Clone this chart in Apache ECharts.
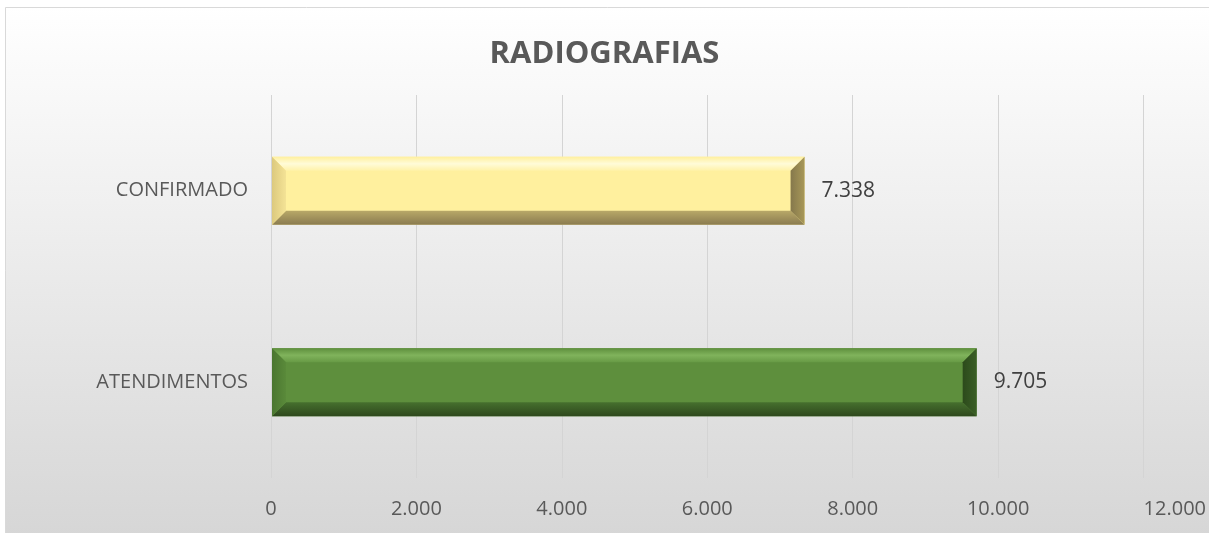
<!DOCTYPE html>
<html>
<head>
<meta charset="utf-8">
<script src="https://cdn.jsdelivr.net/npm/echarts@6/dist/echarts.min.js"></script>
<style>
  html, body { margin: 0; padding: 0; background: #fff; }
  #chart { width: 1209px; height: 533px; }
</style>
</head>
<body>
<div id="chart"></div>
<script>
var categories = ['ATENDIMENTOS', 'CONFIRMADO'];
var values = [9705, 7338];
var tickLabels = ['0', '2.000', '4.000', '6.000', '8.000', '10.000', '12.000'];

// cores do bisel por categoria: face, topo, base, esquerda, direita
var bevelColors = [
  { face: '#5e8f3d', top: ['#5e8f3d', '#80b35c', '#679a45'], bottom: ['#46702e', '#2e481d'], left: ['#4a7630', '#5a8a3a'], right: ['#2c4a1b', '#3a5e26'] },
  { face: '#fff09e', top: ['#fff09e', '#fffbd8', '#fff2a8'], bottom: ['#b8a868', '#8a7b50'], left: ['#dcc97e', '#f4e396'], right: ['#85784c', '#a89858'] }
];

function fmt(v) {
  return String(v).replace(/\B(?=(\d{3})+(?!\d))/g, '.');
}

function renderBar(params, api) {
  var cat = api.value(0);
  var val = api.value(1);
  var p0 = api.coord([0, cat]);
  var p1 = api.coord([val, cat]);
  var h = api.size([0, 1])[1] * 0.355;
  var x0 = p0[0] + 1, x1 = p1[0];
  var y0 = p0[1] - h / 2, y1 = p0[1] + h / 2;
  var b = 14;
  var c = bevelColors[params.dataIndex];
  function lg(x, y, x2, y2, cols) {
    var stops = cols.map(function (col, i) { return { offset: i / (cols.length - 1), color: col }; });
    return new echarts.graphic.LinearGradient(x, y, x2, y2, stops);
  }
  return {
    type: 'group',
    children: [
      { type: 'rect', shape: { x: x0, y: y0, width: x1 - x0, height: y1 - y0 }, style: { fill: c.face } },
      { type: 'polygon', shape: { points: [[x0, y0], [x1, y0], [x1 - b, y0 + b], [x0 + b, y0 + b]] }, style: { fill: lg(0, 0, 0, 1, c.top) } },
      { type: 'polygon', shape: { points: [[x0, y1], [x1, y1], [x1 - b, y1 - b], [x0 + b, y1 - b]] }, style: { fill: lg(0, 0, 0, 1, c.bottom) } },
      { type: 'polygon', shape: { points: [[x0, y0], [x0 + b, y0 + b], [x0 + b, y1 - b], [x0, y1]] }, style: { fill: lg(0, 0, 1, 0, c.left) } },
      { type: 'polygon', shape: { points: [[x1, y0], [x1 - b, y0 + b], [x1 - b, y1 - b], [x1, y1]] }, style: { fill: lg(0, 0, 1, 0, c.right) } },
      { type: 'text', x: x1 + 17, y: p0[1], style: { text: fmt(val), fill: '#404040', font: '21px "Open Sans", sans-serif', verticalAlign: 'middle', align: 'left' } }
    ]
  };
}

var chart = echarts.init(document.getElementById('chart'));
var option = {
  backgroundColor: '#ffffff',
  graphic: [{
    type: 'rect', z: -10, silent: true,
    shape: { x: 5.5, y: 7.5, width: 1210, height: 530 },
    style: {
      fill: new echarts.graphic.LinearGradient(0, 0, 0, 1, [
        { offset: 0, color: '#ffffff' }, { offset: 1, color: '#d6d6d6' }
      ]),
      stroke: '#d9d9d9', lineWidth: 1
    }
  }],
  title: {
    text: 'RADIOGRAFIAS',
    left: 'center',
    top: 34,
    textStyle: { fontFamily: 'Open Sans', fontWeight: 'bold', fontSize: 31, color: '#595959' }
  },
  grid: { left: 271, right: 61, top: 95, bottom: 55 },
  xAxis: {
    type: 'value', min: 0, max: 12000, interval: 2000,
    axisLine: { show: false }, axisTick: { show: false },
    splitLine: { lineStyle: { color: '#d4d4d4' } },
    axisLabel: {
      margin: 21, color: '#595959', fontFamily: 'Open Sans', fontSize: 20,
      alignMaxLabel: 'left',
      formatter: function (v) { return tickLabels[Math.round(v / 2000)]; }
    }
  },
  yAxis: {
    type: 'category', data: categories,
    axisLine: { show: false }, axisTick: { show: false },
    axisLabel: { margin: 23, color: '#595959', fontFamily: 'Open Sans', fontSize: 20 }
  },
  series: [{
    type: 'custom',
    renderItem: renderBar,
    encode: { x: 1, y: 0 },
    data: values.map(function (v, i) { return [i, v]; })
  }]
};
chart.setOption(option);
</script>
</body>
</html>
